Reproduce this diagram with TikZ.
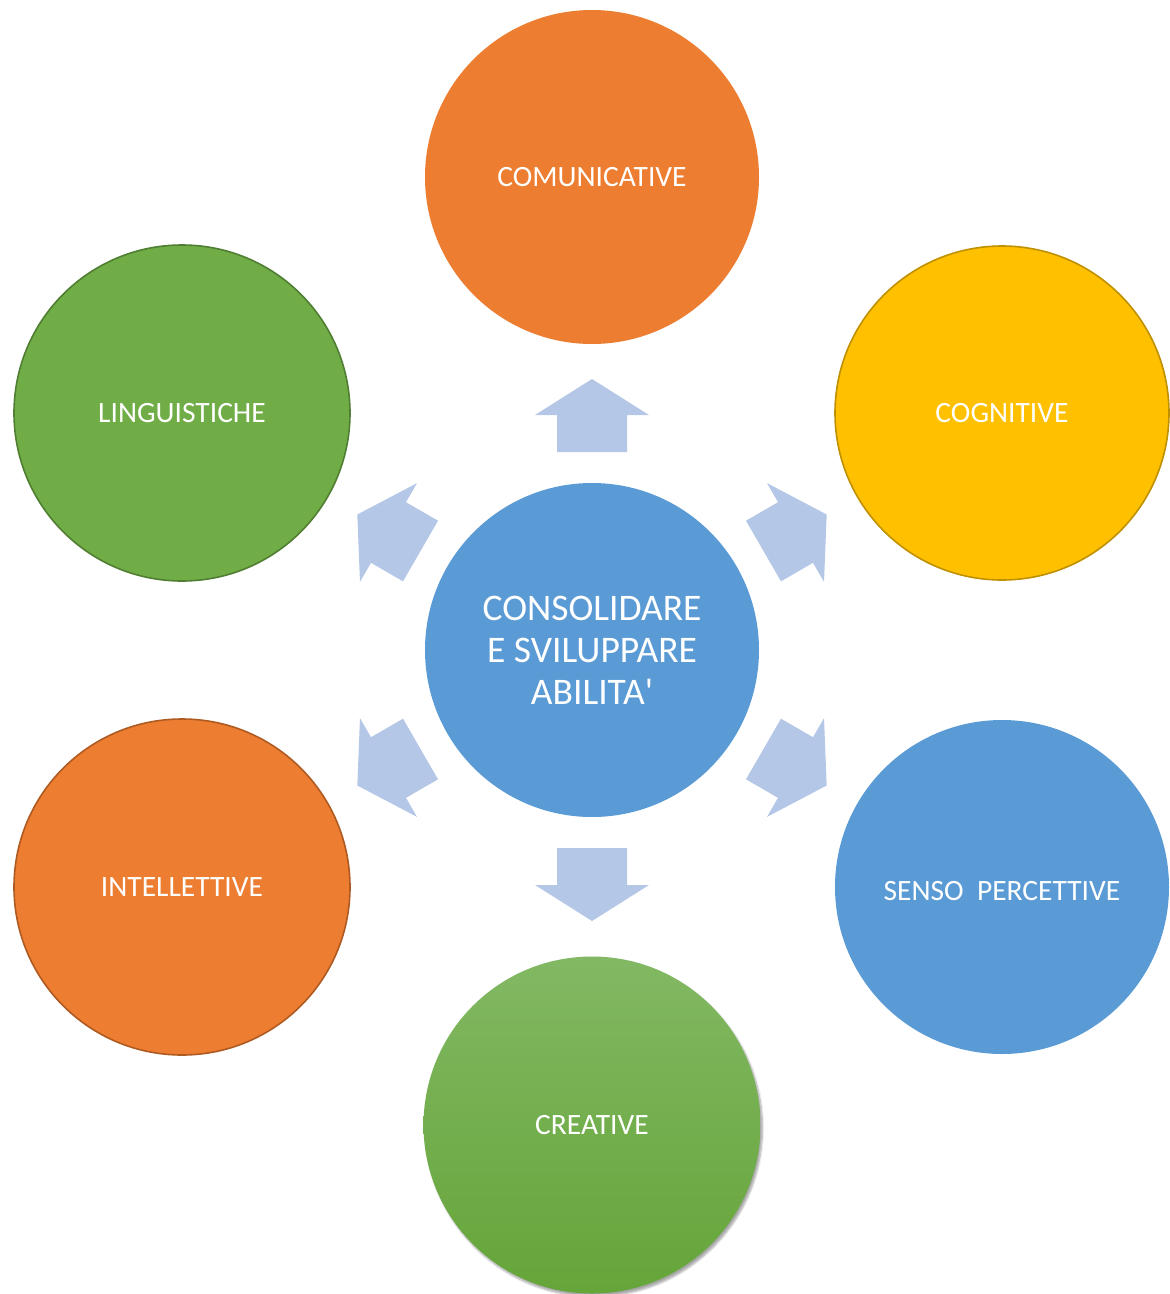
\documentclass[tikz,border=0pt]{standalone}
\usepackage{fontspec}
\setmainfont{Carlito}
\usetikzlibrary{calc,shadows.blur}
\definecolor{orng}{HTML}{ED7D31}
\definecolor{orngdark}{HTML}{AE5A21}
\definecolor{gold}{HTML}{FFC000}
\definecolor{golddark}{HTML}{BF9000}
\definecolor{blu}{HTML}{5B9BD5}
\definecolor{grn}{HTML}{70AD47}
\definecolor{grndark}{HTML}{507E32}
\definecolor{grntop}{HTML}{82B863}
\definecolor{grnbot}{HTML}{65A539}
\definecolor{arrowblue}{HTML}{B4C7E7}
\tikzset{
  bubble/.style={circle, minimum size=#1, inner sep=0pt, text=white, font=\fontsize{29.5}{35}\selectfont, align=center},
  bubble/.default=336pt,
  blockarrow/.style={fill=arrowblue, draw=none}
}
\newcommand{\myblockarrow}[1]{%
  \fill[blockarrow]
    ($(c.center)+(#1:198pt)+(#1+90:35pt)$) --
    ($(c.center)+(#1:235pt)+(#1+90:35pt)$) --
    ($(c.center)+(#1:235pt)+(#1+90:57pt)$) --
    ($(c.center)+(#1:271pt)$) --
    ($(c.center)+(#1:235pt)+(#1-90:57pt)$) --
    ($(c.center)+(#1:235pt)+(#1-90:35pt)$) --
    ($(c.center)+(#1:198pt)+(#1-90:35pt)$) -- cycle;}
\begin{document}
\begin{tikzpicture}[x=1pt,y=1pt]
\useasboundingbox (0,0) rectangle (1170,-1294);
% center
\node[bubble=334pt, fill=blu, font=\fontsize{37.5}{42}\selectfont] (c) at (592,-650) {CONSOLIDARE\\E SVILUPPARE\\ABILITA\textquotesingle};
% satellites
\node[bubble=334pt, fill=orng] (com) at (592,-177) {COMUNICATIVE};
\node[bubble=334pt, fill=gold, draw=golddark, line width=1.6pt] (cog) at (1002,-413) {COGNITIVE};
\node[bubble=334pt, fill=blu] (sen) at (1002,-887) {};
\node[font=\fontsize{29.5}{35}\selectfont, text=white] (sent) at (1002,-891) {SENSO\ \ PERCETTIVE};
\node[bubble=337pt, top color=grntop, bottom color=grnbot, blur shadow={shadow xshift=2pt, shadow yshift=-3pt, shadow blur steps=6, shadow opacity=35}] (cre) at (592,-1125) {CREATIVE};
\node[bubble=336pt, fill=orng, draw=orngdark, line width=1.6pt] (int) at (182,-887) {INTELLETTIVE};
\node[bubble=336pt, fill=grn, draw=grndark, line width=1.6pt] (lin) at (182,-413) {LINGUISTICHE};
% block arrows
\myblockarrow{90}
\myblockarrow{30}
\myblockarrow{-30}
\myblockarrow{-90}
\myblockarrow{-150}
\myblockarrow{150}
\end{tikzpicture}
\end{document}
